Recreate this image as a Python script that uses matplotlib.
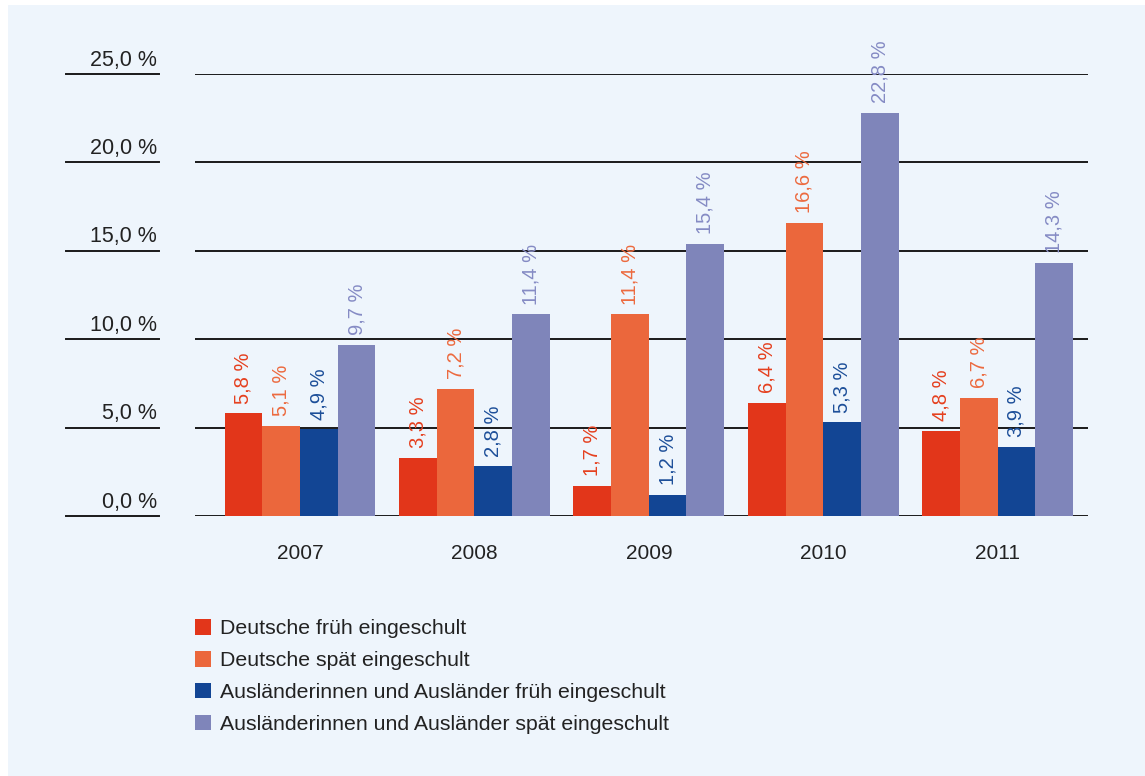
import numpy as np
import matplotlib.pyplot as plt
from matplotlib.patches import Rectangle, Patch

plt.rcParams['font.family'] = ['Liberation Sans', 'DejaVu Sans']

years = ['2007', '2008', '2009', '2010', '2011']
de_frueh = [5.8, 3.3, 1.7, 6.4, 4.8]
de_spaet = [5.1, 7.2, 11.4, 16.6, 6.7]
aus_frueh = [4.9, 2.8, 1.2, 5.3, 3.9]
aus_spaet = [9.7, 11.4, 15.4, 22.8, 14.3]
series_names = ['Deutsche früh eingeschult',
                'Deutsche spät eingeschult',
                'Ausländerinnen und Ausländer früh eingeschult',
                'Ausländerinnen und Ausländer spät eingeschult']
y_ticks = [0, 5, 10, 15, 20, 25]

colors = ['#e2361a', '#eb673c', '#124594', '#7f85ba']
label_colors = ['#e5401f', '#ec6a3f', '#1d4f99', '#858bc4']
bg = '#eef5fc'
W, H = 1145, 776

fig = plt.figure(figsize=(W / 100, H / 100), dpi=100)
fig.patch.set_facecolor('white')
fig.add_artist(Rectangle((8 / W, -0.01), 1.02, 1.01 - 5 / H, transform=fig.transFigure,
                         facecolor=bg, edgecolor='none', zorder=0))

left, right = 195 / W, 1088 / W
bottom, top = 1 - 516 / H, 1 - 74 / H
ax = fig.add_axes([left, bottom, right - left, top - bottom])
ax.set_facecolor('none')
for s in ax.spines.values():
    s.set_visible(False)

x = np.arange(len(years))
bw = 0.216
all_series = [de_frueh, de_spaet, aus_frueh, aus_spaet]
for i, vals in enumerate(all_series):
    pos = x + (i - 1.5) * bw
    ax.bar(pos, vals, width=bw, color=colors[i], zorder=3)
    for px, v in zip(pos, vals):
        ax.text(px, v + 0.55, f'{v:.1f} %'.replace('.', ','), rotation=90,
                ha='center', va='bottom', fontsize=14.5, color=label_colors[i],
                clip_on=False, zorder=4)

ax.set_xlim(-0.602, 4.518)
ax.set_ylim(0, 25)

# horizontal grid lines and left tick stubs
ytr = ax.get_yaxis_transform()
for t in y_ticks:
    ax.axhline(t, color='#1a1a1a', lw=1.4, zorder=2)
    ax.plot([-0.1445, -0.0403], [t, t], color='#1a1a1a', lw=1.4,
            transform=ytr, clip_on=False)
    ax.annotate(f'{t:.1f} %'.replace('.', ','), xy=(-0.0426, t), xycoords=ytr,
                xytext=(0, 2.5), textcoords='offset points',
                ha='right', va='bottom', fontsize=15.5, color='#222222')

ax.set_yticks([])
ax.set_xticks(x)
ax.set_xticklabels(years, fontsize=15, color='#222222')
ax.tick_params(axis='x', length=0, pad=20)

handles = [Patch(facecolor=c, edgecolor='none') for c in colors]
fig.legend(handles, series_names, loc='upper left',
           bbox_to_anchor=(left, 1 - 619 / H), frameon=False, fontsize=15.3,
           handlelength=0.75, handleheight=0.75, handletextpad=0.45,
           labelspacing=0.6, borderpad=0, borderaxespad=0,
           labelcolor='#222222')

fig.savefig('out.png', dpi=100, facecolor=fig.get_facecolor())
